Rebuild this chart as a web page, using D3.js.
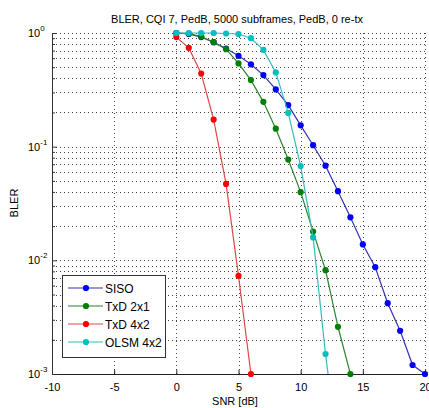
<!DOCTYPE html>
<html>
<head>
<meta charset="utf-8">
<script src="https://cdn.jsdelivr.net/npm/d3@7"></script>
<style>
body { margin: 0; background: #fff; }
text { font-family: "Liberation Sans", Arial, sans-serif; fill: #000; }
</style>
</head>
<body>
<div id="chart"></div>
<script>
// SNR [dB] points and BLER per scheme
var snr = [0, 1, 2, 3, 4, 5, 6, 7, 8, 9, 10, 11, 12, 13, 14, 15, 16, 17, 18, 19, 20];
var siso = [1.0, 0.98, 0.92, 0.83, 0.73, 0.63, 0.53, 0.426, 0.319, 0.232, 0.154, 0.103, 0.068, 0.0406, 0.0239, 0.0138, 0.0087, 0.0042, 0.0024, 0.0012, 0.001];
var txd21 = [1.0, 0.99, 0.93, 0.83, 0.72, 0.54, 0.385, 0.248, 0.144, 0.077, 0.0398, 0.0179, 0.0082, 0.0026, 0.001];
var txd42 = [0.92, 0.74, 0.44, 0.173, 0.047, 0.0073, 0.001];
var olsm42 = [1.0, 1.0, 1.0, 1.0, 0.99, 0.98, 0.9, 0.71, 0.45, 0.198, 0.0675, 0.0159, 0.0015, 0.0002];

var names = ["SISO", "TxD 2x1", "TxD 4x2", "OLSM 4x2"];
var xTicks = [-10, -5, 0, 5, 10, 15, 20];
var yDecades = [-3, -2, -1, 0];

var title = "BLER, CQI 7, PedB, 5000 subframes, PedB, 0 re-tx";

var series = [
    { name: names[0], values: siso, line: "#3434b4", mark: "#0000ff" },
    { name: names[1], values: txd21, line: "#2f7f2f", mark: "#008000" },
    { name: names[2], values: txd42, line: "#e04848", mark: "#ff0000" },
    { name: names[3], values: olsm42, line: "#33bdbd", mark: "#00c0c0" }
];

var width = 429, height = 408;
var pLeft = 52, pRight = 425, pTop = 33, pBottom = 374;

var svg = d3.select("#chart")
    .append("svg")
    .attr("width", width)
    .attr("height", height);

var x = d3.scaleLinear().domain([-10, 20]).range([pLeft, pRight]);
var y = d3.scaleLog().domain([1e-3, 1]).range([pBottom, pTop]);

// minor + major y grid values
var yGrid = [];
yDecades.slice(0, 3).forEach(function(e) {
    for (var k = 1; k < 10; k++) yGrid.push(k * Math.pow(10, e));
});
yGrid.push(1);

var grid = svg.append("g")
    .attr("stroke", "#444")
    .attr("stroke-width", 1)
    .attr("stroke-dasharray", "1,3");

grid.selectAll(".hg")
    .data(yGrid.slice(1))
    .enter()
    .append("line")
    .attr("class", "hg")
    .attr("x1", pLeft)
    .attr("x2", pRight)
    .attr("y1", d => Math.round(y(d)) + 0.5)
    .attr("y2", d => Math.round(y(d)) + 0.5);

grid.selectAll(".vg")
    .data(xTicks.slice(1))
    .enter()
    .append("line")
    .attr("class", "vg")
    .attr("x1", d => Math.round(x(d)) + 0.5)
    .attr("x2", d => Math.round(x(d)) + 0.5)
    .attr("y1", pTop)
    .attr("y2", pBottom);

// axes
var xAxis = d3.axisBottom(x)
    .tickValues(xTicks)
    .tickSize(-4)
    .tickPadding(9)
    .tickFormat(d3.format("d"));

var gx = svg.append("g")
    .attr("transform", "translate(0," + pBottom + ")")
    .call(xAxis);
gx.select(".domain").attr("stroke", "#222").attr("d", "M" + pLeft + ",0.5H" + pRight);
gx.selectAll(".tick line").attr("stroke", "#222");
gx.selectAll(".tick text")
    .attr("font-size", "11px")
    .attr("font-family", "Liberation Sans, Arial, sans-serif")
    .text(d => d < 0 ? "-" + Math.abs(d) : d);

var yAxis = d3.axisLeft(y)
    .tickValues(yGrid)
    .tickSize(-3)
    .tickFormat("");

var gy = svg.append("g")
    .attr("transform", "translate(" + pLeft + ",0)")
    .call(yAxis);
gy.select(".domain").attr("stroke", "#333").attr("d", "M0.5," + pTop + "V" + pBottom);
gy.selectAll(".tick line")
    .attr("stroke", "#333")
    .attr("x2", d => Math.abs(Math.log10(d) % 1) < 1e-9 ? 5 : 3);

// decade labels 10^e
var ylab = svg.selectAll(".ylab")
    .data(yDecades)
    .enter()
    .append("text")
    .attr("class", "ylab")
    .attr("x", 28)
    .attr("y", d => y(Math.pow(10, d)) + 4)
    .attr("font-size", "11px");
ylab.append("tspan").text("10");
ylab.append("tspan")
    .attr("font-size", "8px")
    .attr("dy", -6)
    .text(d => d < 0 ? "-" + Math.abs(d) : d);

// series
svg.append("clipPath")
    .attr("id", "plotclip")
    .append("rect")
    .attr("x", pLeft)
    .attr("y", pTop - 4)
    .attr("width", pRight - pLeft + 4)
    .attr("height", pBottom - pTop + 4);

var line = d3.line()
    .x((d, i) => x(snr[i]))
    .y(d => y(d));

series.forEach(function(s) {
    svg.append("path")
        .attr("d", line(s.values))
        .attr("fill", "none")
        .attr("stroke", s.line)
        .attr("stroke-width", 1.2)
        .attr("clip-path", "url(#plotclip)");

    svg.selectAll(null)
        .data(s.values.map((v, i) => [snr[i], v]).filter(p => p[1] >= 0.00099))
        .enter()
        .append("circle")
        .attr("cx", d => x(d[0]))
        .attr("cy", d => y(d[1]))
        .attr("r", 3.1)
        .attr("fill", s.mark);
});

// title and axis labels
svg.append("text")
    .attr("x", 237)
    .attr("y", 23)
    .attr("text-anchor", "middle")
    .attr("font-size", "11px")
    .text(title);

svg.append("text")
    .attr("x", 235)
    .attr("y", 405)
    .attr("text-anchor", "middle")
    .attr("font-size", "11px")
    .text("SNR [dB]");

svg.append("text")
    .attr("transform", "translate(18,203) rotate(-90)")
    .attr("text-anchor", "middle")
    .attr("font-size", "11px")
    .text("BLER");

// legend
var legend = svg.append("g").attr("transform", "translate(62,275)");
legend.append("rect")
    .attr("x", 0.5)
    .attr("y", 0.5)
    .attr("width", 103)
    .attr("height", 82)
    .attr("fill", "#fff")
    .attr("stroke", "#333");

var items = legend.selectAll(".item")
    .data(series)
    .enter()
    .append("g")
    .attr("class", "item")
    .attr("transform", (d, i) => "translate(0," + (13 + i * 18) + ")");
items.append("line")
    .attr("x1", 6)
    .attr("x2", 41)
    .attr("stroke", d => d.line)
    .attr("stroke-width", 1.2);
items.append("circle")
    .attr("cx", 24)
    .attr("r", 3.1)
    .attr("fill", d => d.mark);
items.append("text")
    .attr("x", 43)
    .attr("y", 4.5)
    .attr("font-size", "12px")
    .text(d => d.name);
</script>
</body>
</html>
